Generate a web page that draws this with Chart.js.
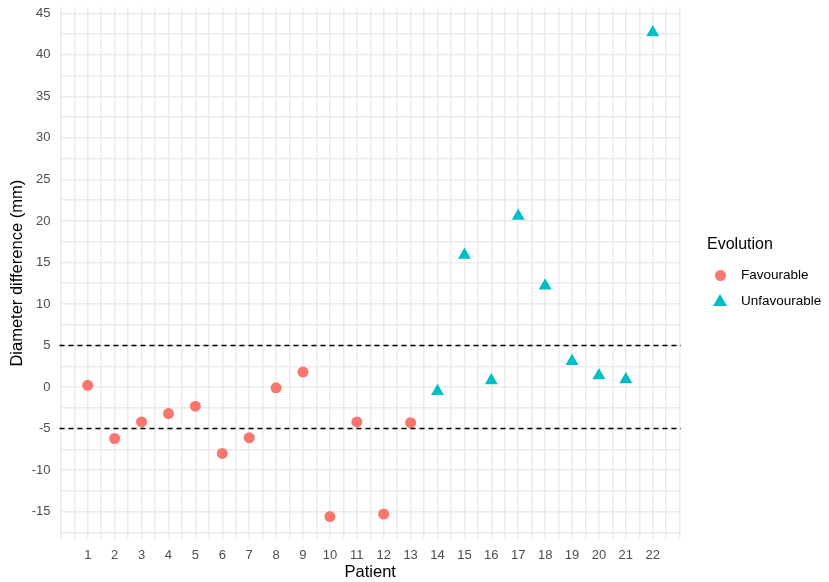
<!DOCTYPE html>
<html>
<head>
<meta charset="utf-8">
<script src="https://cdn.jsdelivr.net/npm/chart.js@4/dist/chart.umd.min.js"></script>
<style>
  body { margin: 0; background: #fff; }
  #wrap { position: relative; width: 829px; height: 582px; }
  #legend { position: absolute; left: 707px; top: 235px; font-family: "Liberation Sans", Arial, sans-serif; color: #000; }
  #legend .title { font-size: 16px; margin-bottom: 9px; }
  #legend .item { position: relative; height: 26px; font-size: 13.5px; line-height: 26px; padding-left: 34px; }
  #legend .dot { position: absolute; left: 7.5px; top: 7.5px; width: 11px; height: 11px; border-radius: 50%; background: #F8766D; }
  #legend .tri { position: absolute; left: 6px; top: 6px; width: 0; height: 0;
    border-left: 7px solid transparent; border-right: 7px solid transparent; border-bottom: 12px solid #00BFC4; }
</style>
</head>
<body>
<div id="wrap">
  <canvas id="chart" width="829" height="582"></canvas>
  <div id="legend">
    <div class="title">Evolution</div>
    <div class="item"><span class="dot"></span>Favourable</div>
    <div class="item"><span class="tri"></span>Unfavourable</div>
  </div>
</div>
<script>
// ── data ──
const favPatients   = [1, 2, 3, 4, 5, 6, 7, 8, 9, 10, 11, 12, 13];
const favValues     = [0.2, -6.2, -4.2, -3.2, -2.3, -8.0, -6.1, -0.1, 1.8, -15.6, -4.2, -15.3, -4.3];
const unfavPatients = [14, 15, 16, 17, 18, 19, 20, 21, 22];
const unfavValues   = [-0.5, 15.9, 0.8, 20.6, 12.2, 3.1, 1.4, 0.9, 42.7];
const thresholds    = [5, -5];
const xLabels       = [1, 2, 3, 4, 5, 6, 7, 8, 9, 10, 11, 12, 13, 14, 15, 16, 17, 18, 19, 20, 21, 22];
const yLabels       = [-15, -10, -5, 0, 5, 10, 15, 20, 25, 30, 35, 40, 45];

const FONT = '"Liberation Sans", Arial, sans-serif';
const GRID = '#ebebeb';

const toPoints = (xs, ys) => xs.map((x, i) => ({ x, y: ys[i] }));

// dashed reference lines
const hlines = {
  id: 'hlines',
  afterDatasetsDraw(chart) {
    const { ctx, chartArea: a, scales: { y } } = chart;
    ctx.save();
    ctx.strokeStyle = '#000';
    ctx.lineWidth = 1.4;
    ctx.setLineDash([5, 4]);
    thresholds.forEach(t => {
      const py = y.getPixelForValue(t);
      ctx.beginPath(); ctx.moveTo(a.left, py); ctx.lineTo(a.right, py); ctx.stroke();
    });
    ctx.restore();
  }
};

const steps = (lo, hi, step) => { const t = []; for (let v = lo; v <= hi + 1e-9; v += step) t.push({ value: v }); return t; };

new Chart(document.getElementById('chart').getContext('2d'), {
  type: 'scatter',
  data: {
    datasets: [
      { label: 'Favourable', data: toPoints(favPatients, favValues),
        pointStyle: 'circle', pointRadius: 5.5, pointHoverRadius: 5.5,
        backgroundColor: '#F8766D', borderColor: '#F8766D', borderWidth: 0 },
      { label: 'Unfavourable', data: toPoints(unfavPatients, unfavValues),
        pointStyle: 'triangle', pointRadius: 7.5, pointHoverRadius: 7.5,
        backgroundColor: '#00BFC4', borderColor: '#00BFC4', borderWidth: 0 }
    ]
  },
  options: {
    responsive: false,
    animation: false,
    layout: { padding: { left: 0, right: 148, top: 6, bottom: 0 } },
    plugins: { legend: { display: false }, tooltip: { enabled: false } },
    scales: {
      x: {
        type: 'linear', min: -0.05, max: 23.05,
        afterBuildTicks: s => { s.ticks = steps(0, 23, 0.5); },
        afterFit: s => { s.height = 43; s.paddingLeft = 0; s.paddingRight = 0; },
        border: { display: false },
        grid: { color: GRID, drawTicks: false, lineWidth: 1.5 },
        ticks: { autoSkip: false, maxRotation: 0, padding: 9, color: '#4d4d4d',
                 font: { family: FONT, size: 13 },
                 callback: v => xLabels.includes(v) ? String(v) : '' },
        title: { display: true, text: 'Patient', color: '#000',
                 font: { family: FONT, size: 16.5 }, padding: { top: 0, bottom: 0 } }
      },
      y: {
        type: 'linear', min: -18.3, max: 45.7,
        afterBuildTicks: s => { s.ticks = steps(-17.5, 45, 2.5); },
        afterFit: s => { s.width = 59.5; s.paddingTop = 0; s.paddingBottom = 0; },
        border: { display: false },
        grid: { color: GRID, drawTicks: false, lineWidth: 1.5 },
        ticks: { autoSkip: false, padding: 9, color: '#4d4d4d',
                 font: { family: FONT, size: 13 },
                 callback: v => yLabels.includes(v) ? String(v) : '' },
        title: { display: true, text: 'Diameter difference (mm)', color: '#000',
                 font: { family: FONT, size: 16.5 }, padding: { top: 8, bottom: 0 } }
      }
    }
  },
  plugins: [hlines]
});
</script>
</body>
</html>
